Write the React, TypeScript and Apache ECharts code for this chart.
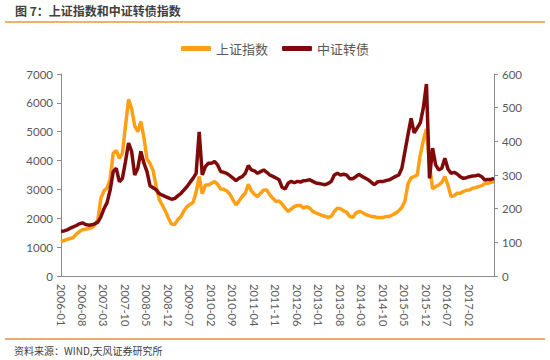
import React, { useEffect, useRef } from "react";
import * as echarts from "echarts";

// 上证指数 (left axis), monthly points
const sseValues: number[] = [
  1190, 1230, 1270, 1300, 1330, 1450, 1540, 1600, 1620, 1650, 1680, 1760,
  1950, 2700, 2950, 3050, 3350, 4250, 4350, 4080, 4260, 5200, 6120, 5800,
  5200, 5000, 5350, 4800, 4050, 3900, 3650, 3100, 2650, 2450, 2250, 2000,
  1800, 1780, 1950, 2050, 2250, 2400, 2480, 2550, 2900, 3450, 2850, 3150,
  3150, 3212, 3269, 3177, 3017, 3005, 2948, 2833, 2638, 2466, 2604, 2753,
  2868, 3177, 2948, 2833, 2753, 2868, 2982, 2982, 2810, 2695, 2581, 2604,
  2489, 2351, 2237, 2328, 2409, 2443, 2443, 2351, 2409, 2351, 2237, 2191,
  2145, 2099, 2065, 2030, 2065, 2237, 2351, 2328, 2260, 2214, 2065, 2030,
  2179, 2237, 2214, 2145, 2099, 2065, 2053, 2030, 2030, 2030, 2065, 2065,
  2122, 2179, 2260, 2374, 2600, 3200, 3400, 3441, 3500, 4200, 4700, 5100,
  3842, 3017, 3097, 3154, 3246, 3441, 3150, 2753, 2787, 2868, 2868, 2925,
  2971, 2982, 3040, 3062, 3097, 3131, 3200, 3212, 3246, 3269,
];

// 中证转债 (right axis)
const cbValues: number[] = [
  133, 134, 137, 142, 146, 150, 155, 158, 153, 151, 152, 155,
  160, 176, 200, 218, 255, 310, 320, 280, 290, 340, 395, 370,
  300, 320, 370, 335, 310, 268, 262, 256, 245, 240, 236, 232,
  228, 230, 238, 245, 255, 265, 278, 290, 305, 428, 300, 325,
  335, 335, 340, 330, 310, 308, 305, 298, 291, 283, 291, 295,
  305, 328, 315, 312, 305, 310, 315, 308, 300, 296, 291, 286,
  263, 259, 276, 281, 277, 281, 279, 283, 284, 286, 281, 276,
  275, 273, 271, 275, 281, 300, 305, 300, 302, 300, 289, 289,
  295, 302, 296, 291, 286, 279, 271, 279, 281, 281, 284, 286,
  291, 296, 300, 320, 370, 420, 468, 425, 440, 455, 500, 570,
  290, 380, 330, 315, 320, 350, 318, 305, 308, 303, 295, 290,
  292, 295, 297, 298, 300, 295, 285, 287, 287, 290,
];

const startYear = 2006;
const startMonth = 1;
const labelEvery = 7; // a tick label every 7 months: 2006-01, 2006-08, ...
const lastLabel = "2017-02";

const seriesNames = ["上证指数", "中证转债"];
const leftTicks = { min: 0, max: 7000, interval: 1000 };
const rightTicks = { min: 0, max: 600, interval: 100 };

const months: string[] = sseValues.map((_, i) => {
  const m0 = startMonth - 1 + i;
  const y = startYear + Math.floor(m0 / 12);
  const m = (m0 % 12) + 1;
  return `${y}-${m < 10 ? "0" + m : m}`;
});
const lastLabelIndex = months.indexOf(lastLabel);

const numFont = "Lato, 'Noto Sans', sans-serif";
const cjkFont = "'Noto Sans CJK SC', 'Noto Sans', sans-serif";
const labelColor = "#595959";
const axisColor = "#8c8c8c";

export default function App() {
  const ref = useRef<HTMLDivElement>(null);
  useEffect(() => {
    if (!ref.current) return;
    const chart = echarts.init(ref.current, undefined, { renderer: "svg" });
    const yLabel = {
      fontSize: 11.5,
      color: labelColor,
      fontFamily: numFont,
      margin: 8,
      formatter: (v: number) => String(v),
    };
    chart.setOption({
      animation: false,
      backgroundColor: "#ffffff",
      legend: {
        data: seriesNames,
        top: 37,
        left: "center",
        icon: "roundRect",
        itemWidth: 30,
        itemHeight: 5,
        itemGap: 14,
        textStyle: { fontSize: 13, color: labelColor, fontFamily: cjkFont },
      },
      grid: { left: 61, right: 56, top: 74, bottom: 84 },
      xAxis: {
        type: "category",
        data: months,
        boundaryGap: false,
        axisLine: { lineStyle: { color: axisColor, width: 1 } },
        axisTick: { show: false },
        axisLabel: {
          interval: (index: number) =>
            index % labelEvery === 0 && index <= lastLabelIndex,
          rotate: -90,
          fontSize: 11,
          color: labelColor,
          fontFamily: numFont,
          margin: 8,
        },
        splitLine: { show: false },
      },
      yAxis: [
        {
          type: "value",
          ...leftTicks,
          axisLine: { show: true, lineStyle: { color: axisColor, width: 1 } },
          axisTick: { show: true, length: 4, lineStyle: { color: axisColor } },
          axisLabel: yLabel,
          splitLine: { show: false },
        },
        {
          type: "value",
          ...rightTicks,
          axisLine: { show: true, lineStyle: { color: axisColor, width: 1 } },
          axisTick: { show: true, length: 4, lineStyle: { color: axisColor } },
          axisLabel: yLabel,
          splitLine: { show: false },
        },
      ],
      series: [
        {
          name: seriesNames[0],
          type: "line",
          yAxisIndex: 0,
          data: sseValues,
          symbol: "none",
          color: "#FFA014",
          lineStyle: { width: 3.5, color: "#FFA014" },
        },
        {
          name: seriesNames[1],
          type: "line",
          yAxisIndex: 1,
          data: cbValues,
          symbol: "none",
          color: "#7F0A0A",
          lineStyle: { width: 3.5, color: "#7F0A0A" },
        },
      ],
      graphic: [
        {
          type: "text",
          left: 15,
          top: 4,
          style: {
            text: "图 7：上证指数和中证转债指数",
            font: `bold 12px ${cjkFont}`,
            fill: "#404040",
          },
        },
        {
          type: "line",
          shape: { x1: 5, y1: 22, x2: 545, y2: 22 },
          style: { stroke: "#E39A3B", lineWidth: 1.5 },
        },
        {
          type: "line",
          shape: { x1: 5, y1: 339, x2: 545, y2: 339 },
          style: { stroke: "#E6AE74", lineWidth: 2 },
        },
        {
          type: "text",
          left: 14,
          top: 345,
          style: {
            text: "资料来源：WIND,天风证券研究所",
            font: `10px ${cjkFont}`,
            fill: "#404040",
          },
        },
      ],
    });
    return () => chart.dispose();
  }, []);
  return (
    <div
      ref={ref}
      style={{ position: "fixed", left: 0, top: 0, width: 550, height: 360 }}
    />
  );
}
